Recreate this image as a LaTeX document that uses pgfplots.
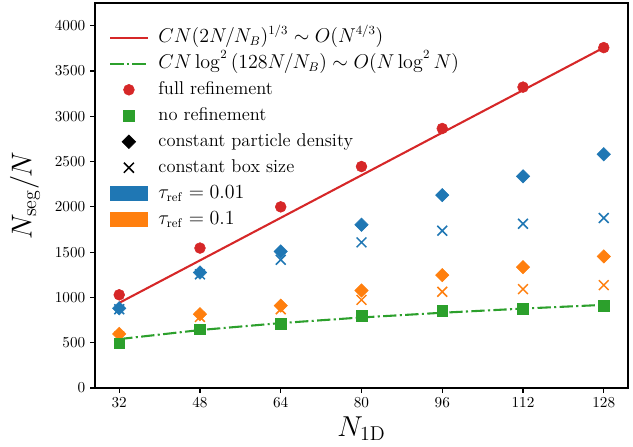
\documentclass[border=0pt]{standalone}
\usepackage{pgfplots}
\pgfplotsset{compat=1.18}
\definecolor{tabred}{HTML}{D62728}
\definecolor{tabgreen}{HTML}{2CA02C}
\definecolor{tabblue}{HTML}{1F77B4}
\definecolor{taborange}{HTML}{FF7F0E}
\begin{document}
\begin{tikzpicture}
\begin{axis}[
  scale only axis, width=383.8pt, height=277.2pt,
  xmin=27.2, xmax=132.8, ymin=0, ymax=4250,
  xtick={32,48,64,80,96,112,128},
  ytick={0,500,1000,1500,2000,2500,3000,3500,4000},
  tick align=outside, tick pos=left, major tick length=3.5pt,
  axis line style={line width=0.8pt}, every tick/.style={line width=0.8pt, black},
  tick label style={font=\fontsize{11}{13}\selectfont},
  y tick label style={/pgf/number format/1000 sep={}},
  xlabel={$N_{\mathrm{1D}}$}, ylabel={$N_{\mathrm{seg}}/N$},
  label style={font=\fontsize{20}{24}\selectfont},
  xlabel style={at={(axis description cs:0.5,-0.106)}, anchor=center},
  ylabel style={at={(axis description cs:-0.1313,0.5)}, anchor=center},
  legend cell align=left,
  legend style={at={(axis description cs:0.026,0.944)}, anchor=north west,
    draw=none, fill=none, inner sep=0pt, row sep=0pt, column sep=5pt,
    nodes={inner sep=2pt, text height=10.5pt, text depth=4.2pt},
    font=\fontsize{13.3}{15}\selectfont},
]
\addlegendimage{legend image code/.code={\draw[tabred, line width=1.5pt] (0cm,0cm) -- (0.95cm,0cm);}}
\addlegendimage{legend image code/.code={\draw[tabgreen, line width=1.5pt, dash pattern=on 9.6pt off 2.4pt on 1.5pt off 2.4pt] (0cm,0cm) -- (0.95cm,0cm);}}
\addlegendimage{legend image code/.code={\fill[tabred] (0.475cm,0cm) circle (3.9pt);}}
\addlegendimage{legend image code/.code={\fill[tabgreen, shift={(0.475cm,0cm)}] (-3.85pt,-3.85pt) rectangle (3.85pt,3.85pt);}}
\addlegendimage{legend image code/.code={\fill[black, shift={(0.475cm,0cm)}] (0pt,4.9pt) -- (4.9pt,0pt) -- (0pt,-4.9pt) -- (-4.9pt,0pt) -- cycle;}}
\addlegendimage{legend image code/.code={\draw[black, line width=1.1pt, shift={(0.475cm,0cm)}] (-3.6pt,-3.6pt) -- (3.6pt,3.6pt) (-3.6pt,3.6pt) -- (3.6pt,-3.6pt);}}
\addlegendimage{legend image code/.code={\fill[tabblue] (0cm,-5pt) rectangle (0.95cm,5.5pt);}}
\addlegendimage{legend image code/.code={\fill[taborange] (0cm,-5pt) rectangle (0.95cm,5.5pt);}}
\legend{$CN(2N/N_B)^{1/3} \sim O(N^{4/3})$,
        $CN\log^2\left(128N/N_B\right) \sim O(N\log^2 N)$,
        full refinement, no refinement, constant particle density, constant box size,
        $\tau_{\mathrm{ref}} = 0.01$, $\tau_{\mathrm{ref}} = 0.1$}

% model lines
\addplot[tabred, line width=1.5pt] coordinates {(32,940) (48,1409) (64,1879) (80,2349) (96,2819) (112,3288) (128,3758)};
\addplot[tabgreen, line width=1.5pt, dash pattern=on 9.6pt off 2.4pt on 1.5pt off 2.4pt] coordinates {(32,540) (48,640) (64,717) (80,779) (96,831) (112,877) (128,918)};

% tau = 0.1 (orange)
\addplot[only marks, taborange, mark=x, mark size=5pt, mark options={line width=1.1pt}] coordinates {(32,570) (48,785) (64,870) (80,973) (96,1062) (112,1092) (128,1136)};
\addplot[only marks, taborange, mark=square*, mark size=3.4pt, mark options={rotate=45}] coordinates {(32,597) (48,815) (64,910) (80,1077) (96,1246) (112,1335) (128,1453)};
% tau = 0.01 (blue)
\addplot[only marks, tabblue, mark=x, mark size=5pt, mark options={line width=1.1pt}] coordinates {(32,870) (48,1255) (64,1416) (80,1608) (96,1737) (112,1814) (128,1877)};
\addplot[only marks, tabblue, mark=square*, mark size=3.4pt, mark options={rotate=45}] coordinates {(32,880) (48,1275) (64,1508) (80,1803) (96,2130) (112,2337) (128,2581)};
% full and no refinement
\addplot[only marks, tabred, mark=*, mark size=3.9pt] coordinates {(32,1029) (48,1545) (64,2000) (80,2445) (96,2865) (112,3322) (128,3758)};
\addplot[only marks, tabgreen, mark=square*, mark size=3.85pt] coordinates {(32,495) (48,650) (64,708) (80,796) (96,850) (112,874) (128,910)};
\end{axis}
\pgfresetboundingbox
\path ([xshift=-68.4pt, yshift=-41.8pt]current axis.south west) rectangle ([xshift=3.6pt, yshift=2.2pt]current axis.north east);
\end{tikzpicture}
\end{document}
